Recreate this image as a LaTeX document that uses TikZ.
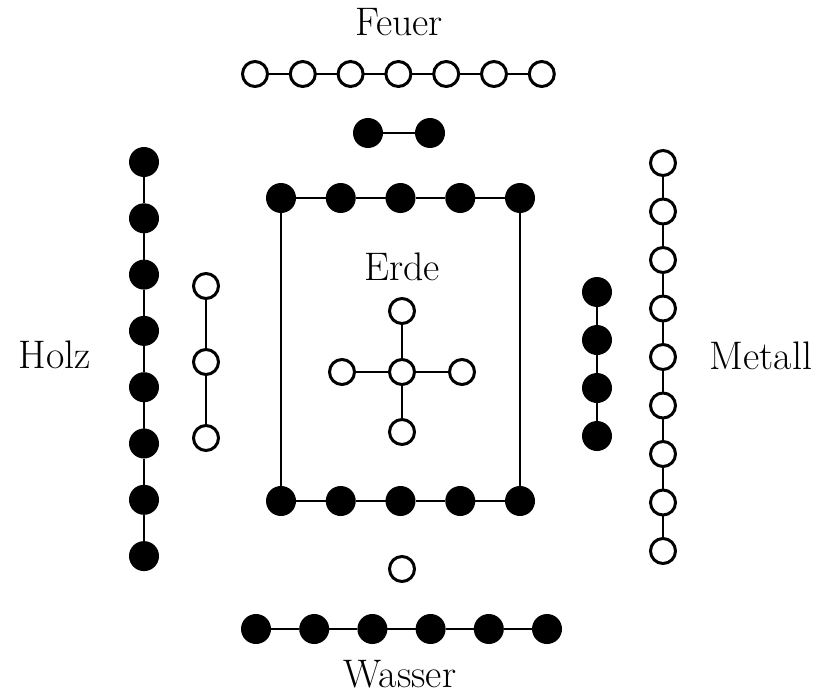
\documentclass[tikz,border=0pt]{standalone}
\usepackage{tikz}
\tikzset{
    yangnode/.style = {
        circle,
        draw=black,
        fill=white,
        line width=3bp,
        minimum size=25bp,
        inner sep=0pt,
        outer sep=0pt
    },
    yinnode/.style = {
        circle,
        fill=black,
        minimum size=30bp,
        inner sep=0pt,
        outer sep=0pt
    },
    labelnode/.style = {
        font=\fontsize{40}{46}\selectfont,
        anchor=base,
        inner sep=0pt
    },
    link/.style = {
        line width=2bp
    }
}
\begin{document}
\begin{tikzpicture}[x=1bp, y=-1bp]
    \useasboundingbox (0,0) rectangle (820,696);
    % Feuer: 7 oben, 2 innen
    \node [labelnode] (feuer) at (399,36) {Feuer};
    \foreach \i in {1,...,7}
        \node [yangnode] (f\i) at ({255+47.8*(\i-1)},74) {};
    \node [yinnode] (fi1) at (368,133) {};
    \node [yinnode] (fi2) at (430,133) {};
    % Holz: 8 aussen, 3 innen
    \node [labelnode] (holz) at (55,368) {Holz};
    \foreach \i in {1,...,8}
        \node [yinnode] (h\i) at (144,{162+56.3*(\i-1)}) {};
    \foreach \i in {1,...,3}
        \node [yangnode] (hi\i) at (206,{286+76*(\i-1)}) {};
    % Erde: 5 + 5 im Quadrat, 5 im Kreuz
    \node [labelnode] (erde) at (402,280) {Erde};
    \foreach \i in {1,...,5} {
        \node [yinnode] (t\i) at ({281+59.75*(\i-1)},198) {};
        \node [yinnode] (b\i) at ({281+59.75*(\i-1)},501) {};
    }
    \node [yangnode] (e0) at (402,372) {};
    \node [yangnode] (eu) at (402,311) {};
    \node [yangnode] (ed) at (402,432) {};
    \node [yangnode] (el) at (342,372) {};
    \node [yangnode] (er) at (462,372) {};
    % Metall: 4 innen, 9 aussen
    \node [labelnode] (metall) at (761,369) {Metall};
    \foreach \i in {1,...,4}
        \node [yinnode] (mi\i) at (597,{292+48*(\i-1)}) {};
    \foreach \i in {1,...,9}
        \node [yangnode] (m\i) at (663,{163+48.5*(\i-1)}) {};
    % Wasser: 1 innen, 6 unten
    \node [labelnode] (wasser) at (400,687) {Wasser};
    \node [yangnode] (wi1) at (402,569) {};
    \foreach \i in {1,...,6}
        \node [yinnode] (w\i) at ({256+58.2*(\i-1)},629) {};

    % Verbindungen
    \foreach \i [evaluate=\i as \j using int(\i+1)] in {1,...,6}
        \draw [link] (f\i) -- (f\j);
    \draw [link] (fi1) -- (fi2);
    \foreach \i [evaluate=\i as \j using int(\i+1)] in {1,...,7}
        \draw [link] (h\i) -- (h\j);
    \foreach \i [evaluate=\i as \j using int(\i+1)] in {1,...,2}
        \draw [link] (hi\i) -- (hi\j);
    \foreach \i [evaluate=\i as \j using int(\i+1)] in {1,...,4} {
        \draw [link] (t\i) -- (t\j);
        \draw [link] (b\i) -- (b\j);
    }
    \draw [link] (t1) -- (b1);
    \draw [link] (t5) -- (b5);
    \foreach \k in {eu,ed,el,er}
        \draw [link] (e0) -- (\k);
    \foreach \i [evaluate=\i as \j using int(\i+1)] in {1,...,3}
        \draw [link] (mi\i) -- (mi\j);
    \foreach \i [evaluate=\i as \j using int(\i+1)] in {1,...,8}
        \draw [link] (m\i) -- (m\j);
    \foreach \i [evaluate=\i as \j using int(\i+1)] in {1,...,5}
        \draw [link] (w\i) -- (w\j);
\end{tikzpicture}
\end{document}
